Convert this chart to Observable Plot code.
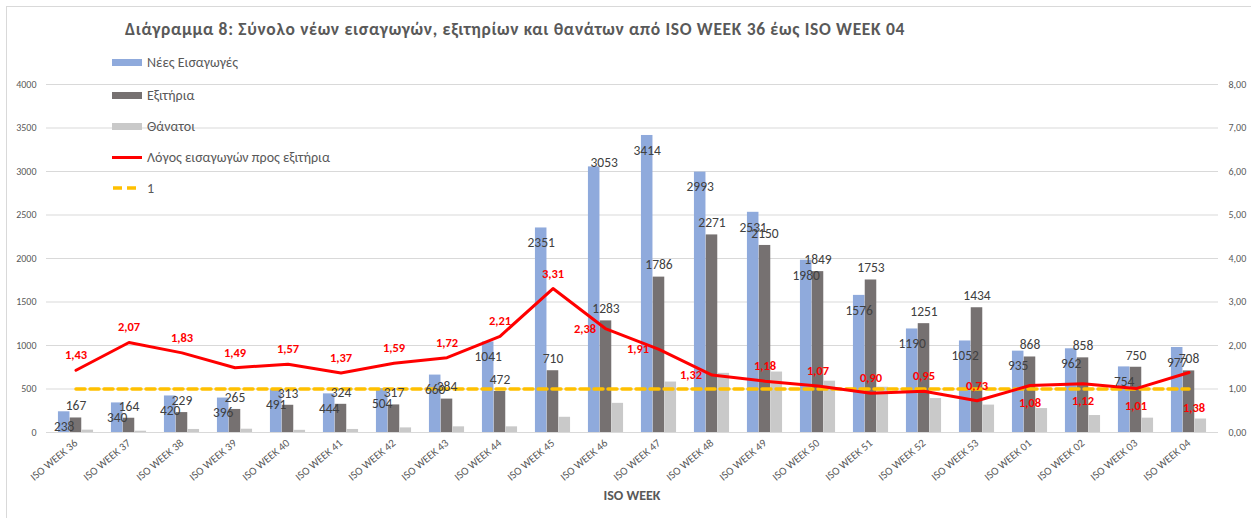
<!DOCTYPE html>
<html><head><meta charset="utf-8">
<script src="https://cdn.jsdelivr.net/npm/d3@7"></script>
<script src="https://cdn.jsdelivr.net/npm/@observablehq/plot@0.6"></script>
<style>
body{margin:0;background:#fff;}
#wrap{position:relative;width:1251px;height:518px;overflow:hidden;font-family:Calibri,Carlito,Lato,"Open Sans",sans-serif;background:#fff;}
#frame{position:absolute;left:6px;top:6px;width:1300px;height:600px;border:1px solid #d9d9d9;}
#chart{position:absolute;left:0;top:0;}
#title{position:absolute;left:125px;top:18px;font-size:17.5px;font-weight:bold;color:#595959;white-space:nowrap;}
.leg{position:absolute;left:112px;height:16px;display:flex;align-items:center;font-size:14px;color:#595959;white-space:nowrap;}
.sw{width:30px;height:7px;margin-right:5px;}
#xtitle{position:absolute;left:632px;top:487px;transform:translateX(-50%);font-size:14px;font-weight:bold;color:#595959;}
</style></head><body>
<div id="wrap">
  <div id="frame"></div>
  <div id="chart"></div>
  <div id="title">Διάγραμμα 8: Σύνολο νέων εισαγωγών, εξιτηρίων και θανάτων από ISO WEEK 36 έως ISO WEEK 04</div>
  <div id="legend"></div>
  <div id="xtitle">ISO WEEK</div>
</div>
<script>
const weeks = ["ISO WEEK 36","ISO WEEK 37","ISO WEEK 38","ISO WEEK 39","ISO WEEK 40","ISO WEEK 41","ISO WEEK 42","ISO WEEK 43","ISO WEEK 44","ISO WEEK 45","ISO WEEK 46","ISO WEEK 47","ISO WEEK 48","ISO WEEK 49","ISO WEEK 50","ISO WEEK 51","ISO WEEK 52","ISO WEEK 53","ISO WEEK 01","ISO WEEK 02","ISO WEEK 03","ISO WEEK 04"];
const admissions = [238,340,420,396,491,444,504,660,1041,2351,3053,3414,2993,2531,1980,1576,1190,1052,935,962,754,977];
const discharges = [167,164,229,265,313,324,317,384,472,710,1283,1786,2271,2150,1849,1753,1251,1434,868,858,750,708];
const deaths = [27,15,35,38,25,35,53,65,65,175,335,580,680,695,590,520,390,315,275,195,165,155];
const ratios = [1.43,2.07,1.83,1.49,1.57,1.37,1.59,1.72,2.21,3.31,2.38,1.91,1.32,1.18,1.07,0.90,0.95,0.73,1.08,1.12,1.01,1.38];
const leftTicks = [0,500,1000,1500,2000,2500,3000,3500,4000];
const rightTicks = [0,1,2,3,4,5,6,7,8];
const referenceLine = 1;
const seriesNames = ["Νέες Εισαγωγές","Εξιτήρια","Θάνατοι","Λόγος εισαγωγών προς εξιτήρια","1"];

const table = weeks.map((w,i)=>({week:w, adm:admissions[i], dis:discharges[i], dth:deaths[i], ratio:ratios[i], one:referenceLine}));

const W = 1251, H = 518, mL = 46, mR = 33, mT = 84, mB = 86;
const leftMax = 4000, rightMax = 8;
const k = leftMax / rightMax; // right-axis value -> left-axis units
const bw = (W - mL - mR) / weeks.length;
const barW = 11.8, gw = barW * 3, off = (bw - gw) / 2;
const fmt2 = v => v.toFixed(2).replace(".", ",");

const C = {blue:"#8FAADC", dark:"#767171", light:"#C9C9C9", red:"#FF0000", gold:"#FFC000", label:"#404040", grid:"#D9D9D9"};

const ratioLeft = new Set(["ISO WEEK 46","ISO WEEK 47","ISO WEEK 48"]);
const ratioBelow = new Set(["ISO WEEK 01","ISO WEEK 02","ISO WEEK 03"]);
const ratioFar = new Set(["ISO WEEK 04"]);
const blueRaised = new Set(["ISO WEEK 46"]);

const font = 'Calibri, Carlito, Lato, "Open Sans", sans-serif';

const chart = Plot.plot({
  width: W, height: H,
  marginLeft: mL, marginRight: mR, marginTop: mT, marginBottom: mB,
  style: {fontFamily: font, color: "#595959", background: "transparent", fontSize: "10px"},
  x: {type: "band", domain: weeks, padding: 0},
  y: {domain: [0, leftMax]},
  marks: [
    Plot.gridY(leftTicks, {stroke: C.grid, strokeOpacity: 1, strokeWidth: 1}),
    Plot.axisY({ticks: leftTicks, anchor: "left", tickSize: 0, tickPadding: 10, tickFormat: d => String(d), label: null, fontSize: 10}),
    Plot.axisY({ticks: rightTicks.map(v => v * k), anchor: "right", tickSize: 0, tickPadding: 10, tickFormat: d => fmt2(d / k), label: null, fontSize: 10}),
    Plot.axisX({tickRotate: -40, tickSize: 0, tickPadding: 9, label: null, fontSize: 11}),
    Plot.barY(table, {x: "week", y: "adm", fill: C.blue, insetLeft: off, insetRight: bw - off - barW}),
    Plot.barY(table, {x: "week", y: "dis", fill: C.dark, insetLeft: off + barW, insetRight: bw - off - 2 * barW}),
    Plot.barY(table, {x: "week", y: "dth", fill: C.light, insetLeft: off + 2 * barW, insetRight: bw - off - 3 * barW}),
    Plot.line(table, {x: "week", y: d => d.one * k, stroke: C.gold, strokeWidth: 3.5, strokeDasharray: "9,5"}),
    Plot.line(table, {x: "week", y: d => d.ratio * k, stroke: C.red, strokeWidth: 3}),
    Plot.text(table.filter(d => !blueRaised.has(d.week)), {x: "week", y: "adm", text: d => String(d.adm), dx: off + barW / 2 - bw / 2, dy: 15, fill: C.label, fontSize: 13.5}),
    Plot.text(table.filter(d => blueRaised.has(d.week)), {x: "week", y: "adm", text: d => String(d.adm), dx: off + barW / 2 - bw / 2 + 10, dy: -4, fill: C.label, fontSize: 13.5}),
    Plot.text(table, {x: "week", y: "dis", text: d => String(d.dis), dy: -12, fill: C.label, fontSize: 13.5}),
    Plot.text(table.filter(d => !ratioLeft.has(d.week) && !ratioBelow.has(d.week) && !ratioFar.has(d.week)), {x: "week", y: d => d.ratio * k, text: d => fmt2(d.ratio), dy: -15, fill: C.red, fontWeight: "bold", fontSize: 12.5}),
    Plot.text(table.filter(d => ratioLeft.has(d.week)), {x: "week", y: d => d.ratio * k, text: d => fmt2(d.ratio), dx: -21, fill: C.red, fontWeight: "bold", fontSize: 12.5}),
    Plot.text(table.filter(d => ratioBelow.has(d.week)), {x: "week", y: d => d.ratio * k, text: d => fmt2(d.ratio), dy: 17, fill: C.red, fontWeight: "bold", fontSize: 12.5}),
    Plot.text(table.filter(d => ratioFar.has(d.week)), {x: "week", y: d => d.ratio * k, text: d => fmt2(d.ratio), dx: 5, dy: 36, fill: C.red, fontWeight: "bold", fontSize: 12.5})
  ]
});
document.getElementById("chart").appendChild(chart);

// stretch the title to the reference's width
const title = document.getElementById("title");
const tw = title.getBoundingClientRect().width;
const nChars = title.textContent.length;
title.style.letterSpacing = ((780 - tw) / nChars).toFixed(3) + "px";

// legend
const legend = document.getElementById("legend");
const legendTops = [54, 87, 118, 149, 180];
const swatches = [
  `<div class="sw" style="background:${C.blue}"></div>`,
  `<div class="sw" style="background:${C.dark}"></div>`,
  `<div class="sw" style="background:${C.light}"></div>`,
  `<div class="sw" style="height:3px;background:${C.red}"></div>`,
  `<svg width="30" height="8" style="margin-right:5px"><line x1="1" y1="4" x2="29" y2="4" stroke="${C.gold}" stroke-width="3.5" stroke-dasharray="9,5"/></svg>`
];
seriesNames.forEach((n, i) => {
  const d = document.createElement("div");
  d.className = "leg";
  d.style.top = legendTops[i] + "px";
  d.innerHTML = swatches[i] + `<span>${n}</span>`;
  legend.appendChild(d);
});
</script>
</body></html>
